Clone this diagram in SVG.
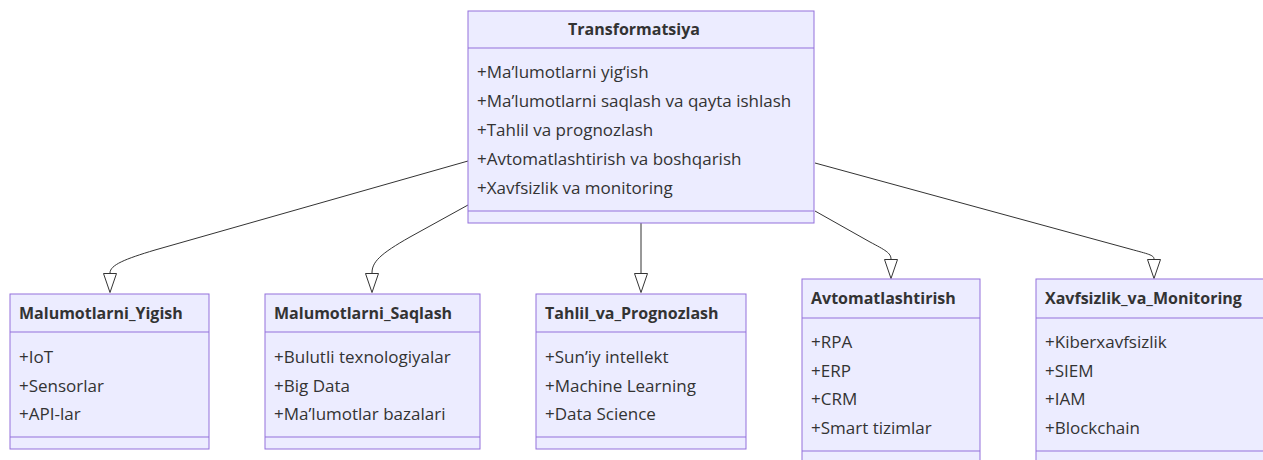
<svg xmlns="http://www.w3.org/2000/svg" width="1263" height="460" viewBox="0 0 1263 460">
<style>
.box{fill:#ECECFF;stroke:#9370DB;stroke-width:1}
.div{stroke:#9370DB;stroke-width:1}
.t{font-family:"Open Sans","Liberation Sans",sans-serif;font-size:16px;fill:#333;font-weight:bold}
.m{font-family:"Open Sans","Liberation Sans",sans-serif;font-size:17px;fill:#333}
.edge{fill:none;stroke:#333;stroke-width:1}
</style>
<defs>
<marker id="ext" viewBox="0 0 20 14" refX="0" refY="7" markerWidth="20" markerHeight="14" markerUnits="userSpaceOnUse" orient="auto">
<path d="M0.5,0.5 L19.5,7 L0.5,13.5 Z" fill="#fff" stroke="#333" stroke-width="1"/>
</marker>
</defs>
<rect width="1263" height="460" fill="#fff"/>
<g id="connectors">
<path class="edge" marker-end="url(#ext)" d="M468,161 L155,250 C125,259 110,265 110,273"/>
<path class="edge" marker-end="url(#ext)" d="M468,205 L410,237 C380,254 372,262 372,273"/>
<path class="edge" marker-end="url(#ext)" d="M641,223 L641,273"/>
<path class="edge" marker-end="url(#ext)" d="M815,211 L870,242 C885,250 891,253 891,259"/>
<path class="edge" marker-end="url(#ext)" d="M815,163 L1130,249 C1148,254 1154,255 1154,259"/>
</g>
<g id="Transformatsiya">
<rect class="box" x="468" y="11" width="346" height="212"/>
<line class="div" x1="468" y1="48" x2="814" y2="48"/>
<line class="div" x1="468" y1="211" x2="814" y2="211"/>
<text class="t" x="634" y="35" text-anchor="middle">Transformatsiya</text>
<text class="m" x="477" y="78">+Ma’lumotlarni yig‘ish</text>
<text class="m" x="477" y="107">+Ma’lumotlarni saqlash va qayta ishlash</text>
<text class="m" x="477" y="136">+Tahlil va prognozlash</text>
<text class="m" x="477" y="165">+Avtomatlashtirish va boshqarish</text>
<text class="m" x="477" y="194">+Xavfsizlik va monitoring</text>
</g>
<g id="Malumotlarni_Yigish">
<rect class="box" x="10" y="294" width="199" height="155"/>
<line class="div" x1="10" y1="332" x2="209" y2="332"/>
<line class="div" x1="10" y1="437" x2="209" y2="437"/>
<text class="t" x="19" y="319">Malumotlarni_Yigish</text>
<text class="m" x="19" y="363">+IoT</text>
<text class="m" x="19" y="391.5">+Sensorlar</text>
<text class="m" x="19" y="420">+API-lar</text>
</g>
<g id="Malumotlarni_Saqlash">
<rect class="box" x="265" y="294" width="215" height="155"/>
<line class="div" x1="265" y1="332" x2="480" y2="332"/>
<line class="div" x1="265" y1="437" x2="480" y2="437"/>
<text class="t" x="274" y="319">Malumotlarni_Saqlash</text>
<text class="m" x="274" y="363">+Bulutli texnologiyalar</text>
<text class="m" x="274" y="391.5">+Big Data</text>
<text class="m" x="274" y="420">+Ma’lumotlar bazalari</text>
</g>
<g id="Tahlil_va_Prognozlash">
<rect class="box" x="536" y="294" width="210" height="155"/>
<line class="div" x1="536" y1="332" x2="746" y2="332"/>
<line class="div" x1="536" y1="437" x2="746" y2="437"/>
<text class="t" x="545" y="319">Tahlil_va_Prognozlash</text>
<text class="m" x="545" y="363">+Sun’iy intellekt</text>
<text class="m" x="545" y="391.5">+Machine Learning</text>
<text class="m" x="545" y="420">+Data Science</text>
</g>
<g id="Avtomatlashtirish">
<rect class="box" x="802" y="279" width="178" height="185"/>
<line class="div" x1="802" y1="318" x2="980" y2="318"/>
<line class="div" x1="802" y1="451" x2="980" y2="451"/>
<text class="t" x="811" y="304">Avtomatlashtirish</text>
<text class="m" x="811" y="347.5">+RPA</text>
<text class="m" x="811" y="376.5">+ERP</text>
<text class="m" x="811" y="405">+CRM</text>
<text class="m" x="811" y="434">+Smart tizimlar</text>
</g>
<g id="Xavfsizlik_va_Monitoring">
<rect class="box" x="1036" y="279" width="230" height="185"/>
<line class="div" x1="1036" y1="318" x2="1266" y2="318"/>
<line class="div" x1="1036" y1="451" x2="1266" y2="451"/>
<text class="t" x="1045" y="304">Xavfsizlik_va_Monitoring</text>
<text class="m" x="1045" y="347.5">+Kiberxavfsizlik</text>
<text class="m" x="1045" y="376.5">+SIEM</text>
<text class="m" x="1045" y="405">+IAM</text>
<text class="m" x="1045" y="434">+Blockchain</text>
</g>
</svg>
